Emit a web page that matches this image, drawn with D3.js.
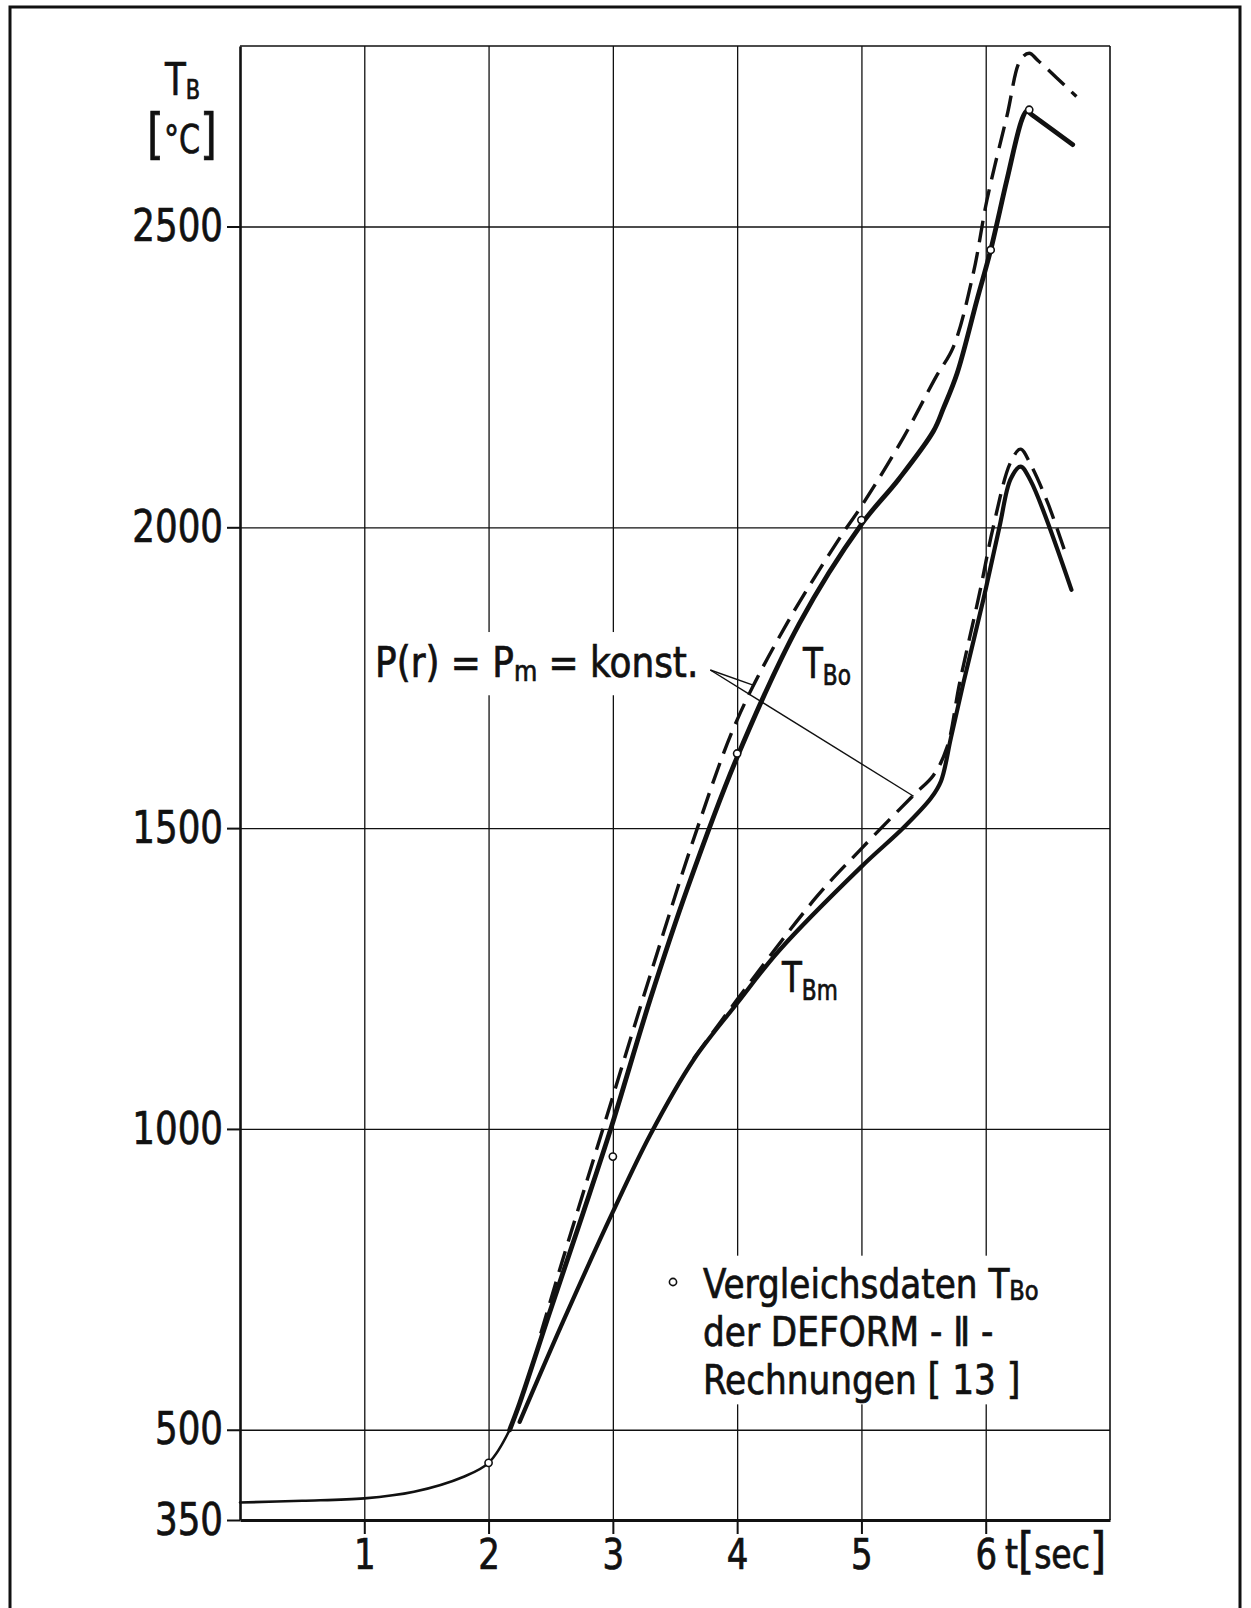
<!DOCTYPE html>
<html>
<head>
<meta charset="utf-8">
<script src="https://cdn.jsdelivr.net/npm/d3@7"></script>
<style>
  html, body { margin: 0; padding: 0; background: #fff; }
  svg { display: block; }
  text { font-family: "DejaVu Sans Condensed", "DejaVu Sans", sans-serif; font-stretch: condensed;
         fill: #111; stroke: #111; stroke-width: 0.7px; }
</style>
</head>
<body>
<svg id="chart" width="1251" height="1608"></svg>
<script>
// ---- axis ticks ----
const timeTicks = [1, 2, 3, 4, 5, 6];                 // t [sec]
const tempTicks = [350, 500, 1000, 1500, 2000, 2500]; // T_B [°C]

// ---- common heat-up phase (identical for T_Bo and T_Bm) ----
const startT = [0, 0.5, 1.0, 1.4, 1.8, 2.0, 2.17, 2.3];
const startV = [379, 382, 386, 397, 422, 445, 500, 575];

// ---- T_Bo, solid ----
const tboT = [2.17, 2.25, 2.49, 2.76, 2.98, 3.3, 3.6, 3.99, 4.5, 5.0, 5.3, 5.58, 5.66, 5.77, 5.93, 6.04, 6.17, 6.29, 6.33, 6.37, 6.70];
const tboV = [500, 544, 694, 860, 998, 1215, 1400, 1613, 1840, 2005, 2080, 2160, 2198, 2256, 2378, 2461, 2577, 2677, 2692, 2686, 2636];

// ---- T_Bo, dashed: P(r) = Pm = konst. ----
const tboDashT = [2.42, 2.6, 2.92, 3.3, 3.68, 4.0, 4.4, 4.85, 5.0, 5.34, 5.6, 5.74, 5.9, 6.01, 6.17, 6.28, 6.35, 6.42, 6.73];
const tboDashV = [660, 785, 1000, 1255, 1500, 1680, 1840, 1990, 2035, 2150, 2250, 2300, 2422, 2544, 2683, 2777, 2788, 2776, 2716];

// ---- T_Bm, solid ----
const tbmT = [2.25, 2.6, 3.0, 3.3, 3.65, 4.0, 4.34, 5.0, 5.34, 5.56, 5.64, 5.72, 5.82, 5.98, 6.11, 6.2, 6.28, 6.36, 6.69];
const tbmV = [513, 680, 862, 990, 1115, 1209, 1297, 1436, 1501, 1550, 1578, 1650, 1741, 1879, 2000, 2080, 2101, 2078, 1896];

// ---- T_Bm, dashed: P(r) = Pm = konst. ----
const tbmDashT = [3.65, 4.0, 4.64, 5.0, 5.42, 5.58, 5.69, 5.79, 5.95, 6.06, 6.2, 6.28, 6.36, 6.5, 6.65];
const tbmDashV = [1117, 1215, 1386, 1466, 1555, 1588, 1635, 1741, 1890, 2000, 2108, 2130, 2105, 2040, 1952];

// ---- comparison data T_Bo, DEFORM-II ----
const refT = [2.0, 3.0, 4.0, 5.0, 6.04, 6.35];
const refV = [445, 954, 1624, 2012, 2461, 2694];

// ---- leader targets on the dashed curves ----
const leaderT = [4.14, 5.42];
const leaderV = [1737, 1553];

// ---------------------------------------------------------------
const svg = d3.select("#chart");
const SX = 0.86;            // horizontal squeeze of the lettering
const INK = "#111";

const x = d3.scaleLinear().domain([0, 7]).range([240, 1110]);
const y = d3.scaleLinear().domain([350, 2800]).range([1520, 46]);
const plotW = x(7) - x(0), plotH = y(350) - y(2800);

// outer sheet frame
svg.append("rect")
  .attr("x", 10).attr("y", 7).attr("width", 1230).attr("height", 1640)
  .attr("fill", "none").attr("stroke", INK).attr("stroke-width", 3);

// grid
const gridV = svg.append("g").attr("transform", `translate(0,${y(350)})`)
  .call(d3.axisBottom(x).tickValues(timeTicks).tickSize(-plotH).tickFormat(""));
const gridH = svg.append("g").attr("transform", `translate(${x(0)},0)`)
  .call(d3.axisLeft(y).tickValues(tempTicks.filter(v => v > 350)).tickSize(-plotW).tickFormat(""));
[gridV, gridH].forEach(g => {
  g.select(".domain").remove();
  g.selectAll("line").attr("stroke", INK).attr("stroke-width", 1.3);
});

const maskLayer = svg.append("g");
const frameLayer = svg.append("g");
const curveLayer = svg.append("g");
const textLayer = svg.append("g");

// plot border: top and right thin
frameLayer.append("line").attr("x1", x(0)).attr("x2", x(7)).attr("y1", y(2800)).attr("y2", y(2800))
  .attr("stroke", INK).attr("stroke-width", 1.6);
frameLayer.append("line").attr("x1", x(7)).attr("x2", x(7)).attr("y1", y(2800)).attr("y2", y(350))
  .attr("stroke", INK).attr("stroke-width", 1.6);

// axes
function styleAxisText(g, size) {
  g.selectAll("text")
    .attr("font-size", size)
    .attr("fill", INK)
    .style("font-family", '"DejaVu Sans Condensed", "DejaVu Sans", sans-serif');
}
const yAxis = frameLayer.append("g").attr("transform", `translate(${x(0)},0)`)
  .call(d3.axisLeft(y).tickValues(tempTicks).tickSize(13).tickSizeOuter(0).tickPadding(4).tickFormat(d3.format("d")));
yAxis.select(".domain").attr("stroke", INK).attr("stroke-width", 2.6);
yAxis.selectAll(".tick line").attr("stroke", INK).attr("stroke-width", 2);
styleAxisText(yAxis, 44);
yAxis.selectAll("text").attr("x", -17 / 0.9).attr("transform", "scale(0.9,1)");

const xAxis = frameLayer.append("g").attr("transform", `translate(0,${y(350)})`)
  .call(d3.axisBottom(x).tickValues(timeTicks).tickSize(14).tickSizeOuter(0).tickPadding(5).tickFormat(d3.format("d")));
xAxis.select(".domain").attr("stroke", INK).attr("stroke-width", 3);
xAxis.selectAll(".tick line").attr("stroke", INK).attr("stroke-width", 2);
styleAxisText(xAxis, 42);
xAxis.selectAll("text").attr("transform", "scale(0.9,1)");

// text helper: parts = [{t, size, dy, br}]; br starts a new line
function label(px, py, parts, size, sx = SX, lineH = 0) {
  const txt = textLayer.append("text")
    .attr("transform", `translate(${px},${py}) scale(${sx},1)`)
    .attr("font-size", size);
  let shift = 0;
  parts.forEach(p => {
    const ts = txt.append("tspan").text(p.t);
    if (p.size) ts.attr("font-size", p.size);
    const want = p.dy || 0;
    if (p.br) {
      ts.attr("x", 0).attr("dy", lineH + want - shift);
      shift = want;
    } else if (want !== shift) {
      ts.attr("dy", want - shift);
      shift = want;
    }
  });
  return txt;
}

// axis titles
label(165, 95, [{t: "T"}, {t: "B", size: 27, dy: 4}], 44);
label(147, 153, [{t: "[", size: 56}, {t: "°C"}, {t: "]", size: 56}], 39);
label(1005, 1568, [{t: "t"}, {t: "[", size: 50}, {t: "sec"}, {t: "]", size: 50}], 40, 0.92);

// annotation of the constant power density case
const pLabel = label(375, 677, [{t: "P(r) = P"}, {t: "m", size: 28, dy: 4}, {t: " = konst.", dy: 0}], 42, 0.95);

// curve names
label(803, 678, [{t: "T"}, {t: "Bo", size: 28, dy: 7}], 42);
label(782, 992, [{t: "T"}, {t: "Bm", size: 28, dy: 8}], 42);

// legend (one block of three lines)
const legend = label(703, 1298, [
  {t: "Vergleichsdaten T"}, {t: "Bo", size: 27, dy: 2},
  {t: "der DEFORM - Ⅱ -", br: true},
  {t: "Rechnungen ", br: true}, {t: "[", size: 42}, {t: " 13 "}, {t: "]", size: 42}
], 41, 0.93, 48);
textLayer.append("circle").attr("cx", 673).attr("cy", 1282).attr("r", 3.6)
  .attr("fill", "#fff").attr("stroke", INK).attr("stroke-width", 1.6);

// white masks behind lettering inside the grid
function maskBehind(node, pad) {
  const b = node.node().getBoundingClientRect();
  maskLayer.append("rect")
    .attr("x", b.left - pad[3]).attr("y", b.top - pad[0])
    .attr("width", b.width + pad[1] + pad[3]).attr("height", b.height + pad[0] + pad[2])
    .attr("fill", "#fff");
}
maskBehind(pLabel, [6, 14, 8, 5]);
maskBehind(legend, [4, 10, 0, 40]);

// curves
const line = d3.line()
  .x(d => x(d[0])).y(d => y(d[1]))
  .curve(d3.curveCatmullRom.alpha(0.5));

function drawCurve(ts, vs, width, dashed) {
  curveLayer.append("path")
    .datum(d3.zip(ts, vs))
    .attr("d", line)
    .attr("fill", "none")
    .attr("stroke", INK)
    .attr("stroke-width", width)
    .attr("stroke-linecap", dashed ? "butt" : "round")
    .attr("stroke-linejoin", "round")
    .attr("stroke-dasharray", dashed ? "22 10" : null);
}
drawCurve(startT, startV, 2.6, false);
drawCurve(tboT, tboV, 4.8, false);
drawCurve(tbmT, tbmV, 4.2, false);
drawCurve(tboDashT, tboDashV, 3.4, true);
drawCurve(tbmDashT, tbmDashV, 3.4, true);

// leader lines from the annotation to the dashed curves
const pb = pLabel.node().getBoundingClientRect();
const lx0 = pb.right + 12, ly0 = 670;
d3.zip(leaderT, leaderV).forEach(([t, v]) => {
  curveLayer.append("line")
    .attr("x1", lx0).attr("y1", ly0)
    .attr("x2", x(t)).attr("y2", y(v))
    .attr("stroke", INK).attr("stroke-width", 1.4);
});

// DEFORM-II comparison points
curveLayer.selectAll("circle.ref")
  .data(d3.zip(refT, refV))
  .join("circle")
  .attr("class", "ref")
  .attr("cx", d => x(d[0])).attr("cy", d => y(d[1]))
  .attr("r", 3.6)
  .attr("fill", "#fff").attr("stroke", INK).attr("stroke-width", 1.6);
</script>
</body>
</html>
